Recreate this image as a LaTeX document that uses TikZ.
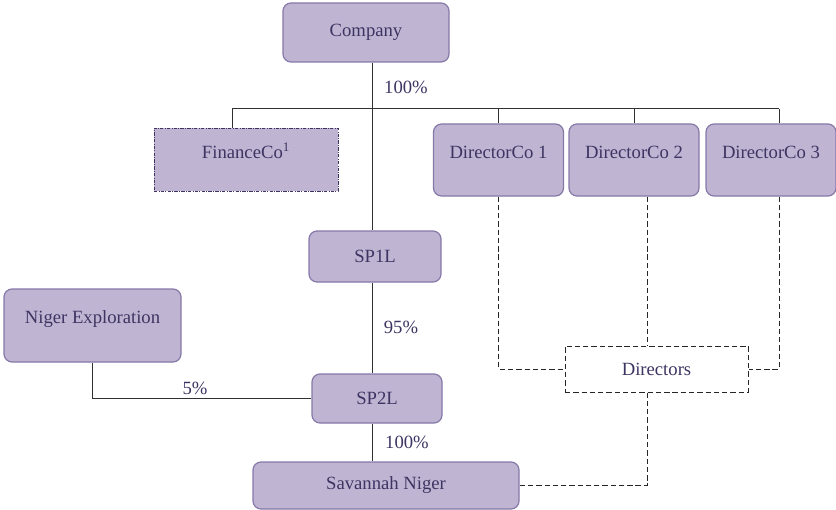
\documentclass[tikz,border=0pt]{standalone}
\usepackage{fontspec}
\setmainfont{Liberation Serif}
\newfontfamily\orgfont{Liberation Serif}
\usetikzlibrary{positioning,calc}
\definecolor{orgFill}{HTML}{BFB5D3}
\definecolor{orgEdge}{HTML}{8679A8}
\definecolor{orgInk} {HTML}{3E3462}
\definecolor{orgLine}{HTML}{303030}

\begin{document}
\begin{tikzpicture}[x=0.75pt,y=-0.75pt,font=\orgfont\fontsize{14}{16}\selectfont,
      entity/.style={draw=orgEdge,fill=orgFill,text=orgInk,rounded corners=6pt,
                     line width=0.9pt,inner sep=0pt,align=center},
      tagbox/.style 2 args={text height=#1,text depth=#2},
      link/.style={orgLine,line width=0.75pt},
      dlink/.style={black!85,line width=0.75pt,dash pattern=on 4pt off 2.2pt},
      share/.style={text=orgInk,inner sep=1pt}]
    \useasboundingbox (0,0) rectangle (836,510);

    \node[entity,minimum width=124.5pt,minimum height=44.25pt] (company) at (366,32.5) {Company};
    \node[entity,sharp corners,draw=orgInk,line width=0.6pt,
          dash pattern=on 2.5pt off 1pt on 0.6pt off 1pt,
          minimum width=138pt,tagbox={22.5pt}{24.75pt}] (finco) at (246,159.5)
      {FinanceCo\textsuperscript{1}};
    \node[entity,minimum width=97.5pt,tagbox={25.5pt}{28.5pt}] (dco1) at (498.5,160) {DirectorCo 1};
    \node[entity,minimum width=97.5pt,tagbox={25.5pt}{28.5pt}] (dco2) at (634,160) {DirectorCo 2};
    \node[entity,minimum width=97.5pt,tagbox={25.5pt}{28.5pt}] (dco3) at (771,160) {DirectorCo 3};

    \node[entity,minimum width=99pt,minimum height=38.25pt] (sp1l) at (375,256.5) {SP1L};
    \node[entity,minimum width=132.75pt,tagbox={25.5pt}{29.25pt}] (nigerx) at (92.5,325.5)
      {Niger Exploration};
    \node[entity,minimum width=97.5pt,minimum height=36.75pt] (sp2l) at (377,398.5) {SP2L};
    \node[draw=black!85,fill=white,text=orgInk,line width=0.75pt,
          dash pattern=on 4pt off 2.2pt,minimum width=137.25pt,
          minimum height=34.5pt] (directors) at (656.5,369) {Directors};
    \node[entity,minimum width=199.5pt,minimum height=35.25pt] (savannah) at (386,485.5)
      {Savannah Niger};

    \coordinate (bus)  at (372,109);
    \coordinate (busL) at (232,109);
    \coordinate (busR) at (779,109);
    \coordinate (dtap) at (647,369);

    % ownership lines
    \draw[link] (company.south -| bus) -- (sp1l.north -| bus);
    \draw[link] (busL) -- (busR);
    \draw[link] (busL) -- (busL |- finco.north);
    \draw[link] (dco1.north |- bus) -- (dco1.north);
    \draw[link] (dco2.north |- bus) -- (dco2.north);
    \draw[link] (busR) -- (busR |- dco3.north);
    \draw[link] (sp1l.south -| bus) -- (sp2l.north -| bus);
    \draw[link] (sp2l.south -| bus) -- (savannah.north -| bus);
    \draw[link] (nigerx.south) |- (sp2l.west);

    % board links
    \draw[dlink] (dco1.south) |- (directors.west);
    \draw[dlink] (dco2.south -| dtap) -- (directors.north -| dtap);
    \draw[dlink] (dco3.south -| busR) |- (directors.east);
    \draw[dlink] (directors.south -| dtap) |- (savannah.east);

    \node[share] (own100a) at (406,87)  {100\%};
    \node[share] (own95)   at (401,327) {95\%};
    \node[share] (own5)    at (195,388) {5\%};
    \node[share] (own100b) at (407,442) {100\%};
  \end{tikzpicture}
\end{document}
